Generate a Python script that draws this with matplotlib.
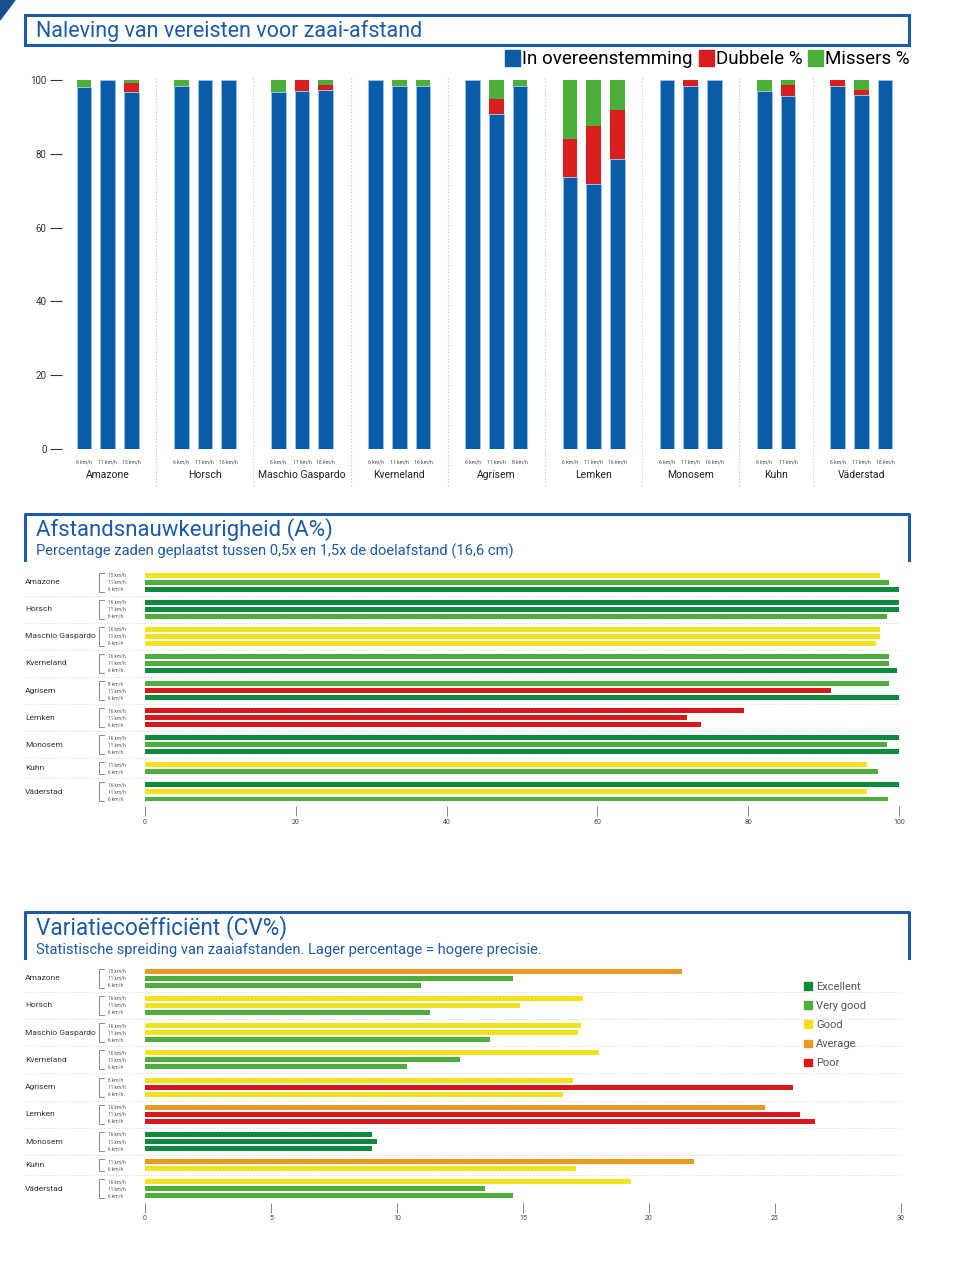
import matplotlib.pyplot as plt
import matplotlib.transforms as mtransforms
from matplotlib.patches import Patch, Polygon, Rectangle
from matplotlib.lines import Line2D

plt.rcParams['font.family'] = ['Roboto', 'DejaVu Sans']

# Machines and test speeds (km/h)
machines = ['Amazone', 'Horsch', 'Maschio Gaspardo', 'Kverneland', 'Agrisem',
            'Lemken', 'Monosem', 'Kuhn', 'Väderstad']
speeds = [[6, 11, 15], [6, 11, 16], [6, 11, 16], [6, 11, 16], [6, 11, 8],
          [6, 11, 16], [6, 11, 16], [6, 11], [6, 11, 16]]

# Naleving (%) - per machine, same order as speeds
conform = [[98.2, 100, 96.8], [98.4, 100, 100], [96.8, 97.1, 97.2], [100, 98.4, 98.4],
           [100, 90.7, 98.4], [73.8, 71.8, 78.7], [100, 98.5, 100], [97.1, 95.7],
           [98.5, 95.9, 100]]
doubles = [[0, 0, 2.3], [0, 0, 0], [0, 2.9, 1.4], [0, 0, 0], [0, 4.1, 0],
           [10.1, 15.8, 13.2], [0, 1.5, 0], [0, 2.9], [1.5, 1.4, 0]]
misses = [[1.8, 0, 0.9], [1.6, 0, 0], [3.2, 0, 1.4], [0, 1.6, 1.6], [0, 5.2, 1.6],
          [16.1, 12.4, 8.1], [0, 0, 0], [2.9, 1.4], [0, 2.7, 0]]

# Afstandsnauwkeurigheid A%
a_pct = [[100, 98.7, 97.5], [98.4, 100, 100], [97.0, 97.5, 97.5], [99.8, 98.7, 98.7],
         [100, 91.0, 98.7], [73.7, 71.9, 79.4], [100, 98.4, 100], [97.2, 95.8],
         [98.6, 95.8, 100]]
a_rating = [['Excellent', 'Very good', 'Good'], ['Very good', 'Excellent', 'Excellent'],
            ['Good', 'Good', 'Good'], ['Excellent', 'Very good', 'Very good'],
            ['Excellent', 'Poor', 'Very good'], ['Poor', 'Poor', 'Poor'],
            ['Excellent', 'Very good', 'Excellent'], ['Very good', 'Good'],
            ['Very good', 'Good', 'Excellent']]

# Variatiecoefficient CV%
cv_pct = [[10.95, 14.6, 21.3], [11.3, 14.9, 17.4], [13.7, 17.2, 17.3], [10.4, 12.5, 18.0],
          [16.6, 25.7, 17.0], [26.6, 26.0, 24.6], [9.0, 9.2, 9.0], [17.1, 21.8],
          [14.6, 13.5, 19.3]]
cv_rating = [['Very good', 'Very good', 'Average'], ['Very good', 'Good', 'Good'],
             ['Very good', 'Good', 'Good'], ['Very good', 'Very good', 'Good'],
             ['Good', 'Poor', 'Good'], ['Poor', 'Poor', 'Average'],
             ['Excellent', 'Excellent', 'Excellent'], ['Good', 'Average'],
             ['Very good', 'Very good', 'Good']]

rating_names = ['Excellent', 'Very good', 'Good', 'Average', 'Poor']
rating_colors = {'Excellent': '#0d8a3b', 'Very good': '#4dae3c', 'Good': '#f2e11e',
                 'Average': '#e89a25', 'Poor': '#d8191c'}

BLUE = '#0a5ca8'
TITLE_BLUE = '#1d5ba6'
RED = '#d81e1e'
GREEN = '#4caf3a'

W, H = 978, 1288
fig = plt.figure(figsize=(W / 100, H / 100), dpi=100)


def fx(px):
    return px / W


def fy(py):
    return 1 - py / H


def frame_line(xs, ys):
    fig.add_artist(Line2D([fx(x) for x in xs], [fy(y) for y in ys],
                          transform=fig.transFigure, color=TITLE_BLUE, lw=2.2))


# little corner mark
fig.add_artist(Polygon([[0, 1], [fx(15), 1], [0, fy(20)]], closed=True,
                       transform=fig.transFigure, color='#1a4f8f'))

# ---------- header 1 ----------
fig.add_artist(Rectangle((fx(25), fy(45)), fx(909) - fx(25), fy(15) - fy(45),
                         transform=fig.transFigure, fill=False,
                         edgecolor=TITLE_BLUE, lw=2.2))
fig.text(fx(36), fy(31), 'Naleving van vereisten voor zaai-afstand',
         color=TITLE_BLUE, fontsize=15.5, va='center', ha='left')

legend_handles = [Patch(color=BLUE), Patch(color=RED), Patch(color=GREEN)]
fig.legend(legend_handles, ['In overeenstemming', 'Dubbele %', 'Missers %'],
           loc='upper right', bbox_to_anchor=(fx(910), fy(50)), ncol=3,
           frameon=False, fontsize=13.5, handlelength=0.8, handleheight=0.9,
           handletextpad=0.12, columnspacing=0.3, borderaxespad=0, borderpad=0)

# ---------- chart 1: stacked vertical bars ----------
ax1 = fig.add_axes([fx(62), fy(449), fx(910) - fx(62), fy(80) - fy(449)])
gap = 1.1
xpos = []
start = 0
for sp in speeds:
    xpos.append([start + i for i in range(len(sp))])
    start += len(sp) + gap

bw = 0.62
for g, sp in enumerate(speeds):
    xs = xpos[g]
    c = conform[g]
    d = doubles[g]
    m = misses[g]
    ax1.bar(xs, c, width=bw, color=BLUE, edgecolor='#9cc3e6', linewidth=0.6)
    ax1.bar(xs, d, width=bw, bottom=c, color=RED, linewidth=0)
    ax1.bar(xs, m, width=bw, bottom=[ci + di for ci, di in zip(c, d)],
            color=GREEN, linewidth=0)

ax1.set_xlim(xpos[0][0] - 0.93, xpos[-1][-1] + 1.05)
ax1.set_ylim(0, 100)
ax1.set_yticks([0, 20, 40, 60, 80, 100])
ax1.set_xticks([])
ax1.tick_params(axis='y', length=9, width=0.8, color='#333333', pad=2,
                labelsize=7, labelcolor='#333333')
for s in ax1.spines.values():
    s.set_visible(False)

tr1 = mtransforms.blended_transform_factory(ax1.transData, fig.transFigure)
for g, name in enumerate(machines):
    xs = xpos[g]
    for x, s in zip(xs, speeds[g]):
        ax1.text(x, fy(462), f'{s} km/h', transform=tr1, fontsize=3.6,
                 ha='center', va='center', color='#444444')
    ax1.text(sum(xs) / len(xs), fy(475), name, transform=tr1, fontsize=7.5,
             ha='center', va='center', color='#222222')
    if g < len(machines) - 1:
        xsep = (xs[-1] + xpos[g + 1][0]) / 2
        ax1.plot([xsep, xsep], [fy(78), fy(486)], transform=tr1, clip_on=False,
                 color='#bdbdbd', lw=0.8, ls=(0, (1, 2)))


# ---------- horizontal grouped charts ----------
def hbar_chart(ax, values, ratings, xmax, ticks, xright_px):
    hgap = 0.86
    y = 0
    centers = []
    groups = []
    for g, sp in enumerate(speeds):
        n = len(sp)
        ys = [y + (n - 1 - i) for i in range(n)]
        for yy, v, r in zip(ys, values[g], ratings[g]):
            ax.barh(yy, v, height=0.7, color=rating_colors[r], linewidth=0)
        groups.append((y, y + n - 1))
        centers.append(ys)
        y += n + hgap
    last = groups[-1][1]
    ax.set_ylim(last + 1.0, -1.3)
    ax.set_xlim(0, xmax)
    ax.set_xticks(ticks)
    ax.set_yticks([])
    ax.tick_params(axis='x', length=7, width=0.7, color='#888888', pad=2,
                   labelsize=5, labelcolor='#444444')
    for s in ax.spines.values():
        s.set_visible(False)

    tr = mtransforms.blended_transform_factory(fig.transFigure, ax.transData)
    for g, name in enumerate(machines):
        top, bot = groups[g]
        ax.text(fx(25), (top + bot) / 2, name, transform=tr, fontsize=6,
                ha='left', va='center', color='#333333')
        ax.plot([fx(104), fx(99), fx(99), fx(104)],
                [top - 0.35, top - 0.35, bot + 0.35, bot + 0.35],
                transform=tr, clip_on=False, color='#777777', lw=0.6)
        for yy, s in zip(centers[g], speeds[g]):
            ax.text(fx(108), yy, f'{s} km/h', transform=tr, fontsize=3.4,
                    ha='left', va='center', color='#555555')
        if g < len(machines) - 1:
            ysep = (bot + groups[g + 1][0]) / 2
            ax.plot([fx(25), fx(xright_px)], [ysep, ysep], transform=tr,
                    clip_on=False, color='#cfcfcf', lw=0.7, ls=(0, (1, 2)))


# ---------- header 2 ----------
frame_line([25, 25, 909, 909], [560, 514, 514, 560])
fig.text(fx(36), fy(530), 'Afstandsnauwkeurigheid (A%)', color=TITLE_BLUE,
         fontsize=16, va='center', ha='left')
fig.text(fx(36), fy(551),
         'Percentage zaden geplaatst tussen 0,5x en 1,5x de doelafstand (16,6 cm)',
         color=TITLE_BLUE, fontsize=10.6, va='center', ha='left')

ax2 = fig.add_axes([fx(145), fy(806), fx(899) - fx(145), fy(566) - fy(806)])
hbar_chart(ax2, a_pct, a_rating, 100, [0, 20, 40, 60, 80, 100], 899)

# ---------- header 3 ----------
frame_line([25, 25, 909, 909], [958, 912, 912, 958])
fig.text(fx(36), fy(928), 'Variatiecoëfficiënt (CV%)', color=TITLE_BLUE,
         fontsize=16.3, va='center', ha='left')
fig.text(fx(36), fy(950),
         'Statistische spreiding van zaaiafstanden. Lager percentage = hogere precisie.',
         color=TITLE_BLUE, fontsize=10.6, va='center', ha='left')

ax3 = fig.add_axes([fx(145), fy(1203), fx(901) - fx(145), fy(962) - fy(1203)])
hbar_chart(ax3, cv_pct, cv_rating, 30, [0, 5, 10, 15, 20, 25, 30], 901)

ax3.legend([Patch(color=rating_colors[r]) for r in rating_names], rating_names,
           loc='upper left', bbox_to_anchor=(fx(804), fy(982)),
           bbox_transform=fig.transFigure, frameon=False, fontsize=8,
           labelcolor='#555555', handlelength=0.7, handleheight=0.7,
           handletextpad=0.4, labelspacing=0.82, borderpad=0, borderaxespad=0)

fig.savefig('out.png', dpi=100)
